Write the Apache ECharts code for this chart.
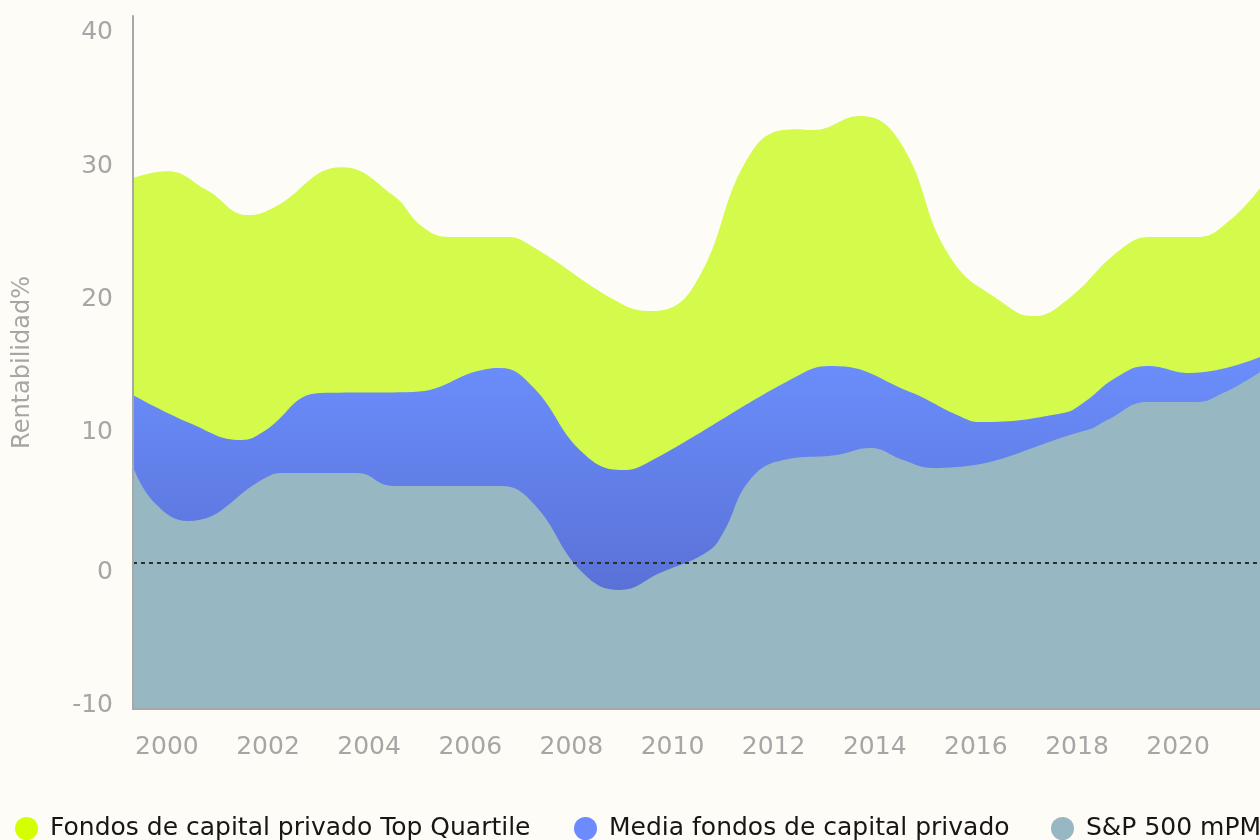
<!DOCTYPE html>
<html>
<head>
<meta charset="utf-8">
<script src="https://cdn.jsdelivr.net/npm/echarts@6/dist/echarts.min.js"></script>
<style>
html,body{margin:0;padding:0;background:#fdfcf7;}
#chart{width:1260px;height:840px;}
</style>
</head>
<body>
<div id="chart"></div>
<script>
// Series names (legend)
const seriesNames = ['Fondos de capital privado Top Quartile', 'Media fondos de capital privado', 'S&P 500 mPM'];

// Axis tick labels
const xTickLabels = [2000, 2002, 2004, 2006, 2008, 2010, 2012, 2014, 2016, 2018, 2020];
const yTickLabels = [-10, 0, 10, 20, 30, 40];

// Top quartile (years, %)
const topYears  = [1999.33, 2000.00, 2000.79, 2001.60, 2002.10, 2003.46, 2004.47, 2005.06, 2005.60, 2006.73, 2007.18, 2008.96, 2009.59, 2010.41, 2011.59, 2012.46, 2012.78, 2013.71, 2014.50, 2015.49, 2016.54, 2017.13, 2017.80, 2018.85, 2019.45, 2020.38, 2021.03, 2021.62];
const topValues = [28.84, 29.36, 27.94, 26.06, 26.59, 29.66, 27.56, 25.16, 24.41, 24.41, 23.81, 19.46, 18.86, 20.66, 30.94, 32.51, 32.44, 33.49, 31.54, 22.91, 19.46, 18.48, 19.68, 23.44, 24.41, 24.41, 25.69, 28.09];

// Media fondos (years, %)
const mediaYears  = [1999.33, 2000.45, 2001.48, 2001.90, 2003.03, 2004.87, 2006.33, 2006.59, 2007.24, 2008.23, 2009.02, 2009.50, 2012.58, 2013.18, 2014.70, 2015.63, 2016.08, 2017.73, 2018.12, 2018.79, 2019.39, 2020.24, 2021.62];
const mediaValues = [12.56, 10.46, 9.18, 9.78, 12.71, 12.79, 14.51, 14.58, 13.16, 8.21, 6.93, 7.46, 14.22, 14.74, 12.79, 11.06, 10.53, 11.21, 11.96, 13.91, 14.74, 14.21, 15.41];

// S&P 500 mPM (years, %)
const spYears  = [1999.33, 1999.76, 2000.42, 2001.98, 2002.29, 2003.76, 2004.47, 2006.59, 2007.24, 2008.23, 2008.96, 2009.75, 2010.68, 2011.00, 2011.53, 2012.19, 2013.25, 2013.91, 2014.56, 2015.15, 2018.20, 2018.60, 2019.39, 2020.38, 2020.89, 2021.37, 2021.62];
const spValues = [7.15, 4.45, 3.10, 6.40, 6.70, 6.70, 5.73, 5.73, 4.46, -0.80, -2.07, -0.80, 0.78, 2.21, 6.18, 7.68, 8.06, 8.58, 7.68, 7.08, 9.93, 10.68, 12.04, 12.04, 12.71, 13.69, 14.29];

const pairs = (xs, ys) => xs.map((x, i) => [x, ys[i]]);

const FONT = 'DejaVu Sans';
const chart = echarts.init(document.getElementById('chart'), null, {renderer: 'canvas'});

function legendAt(name, left) {
  return {
    data: [name],
    left: left,
    top: 816,
    icon: 'circle',
    itemWidth: 23,
    itemHeight: 23,
    padding: 0,
    selectedMode: false,
    textStyle: {fontFamily: FONT, fontSize: 25, color: '#161616', padding: [0, 0, 0, 7]}
  };
}

const areaBase = {
  type: 'line',
  smooth: 0.45,
  showSymbol: false,
  symbol: 'none',
  silent: true,
  lineStyle: {width: 0},
  clip: true
};

const labelStyle = {fontFamily: FONT, fontSize: 25, color: '#a6a6a6'};

chart.setOption({
  backgroundColor: '#fdfcf7',
  animation: false,
  textStyle: {fontFamily: FONT},
  grid: {left: 133, right: 0, top: 16, bottom: 131, containLabel: false},
  legend: [
    legendAt(seriesNames[0], 15),
    legendAt(seriesNames[1], 574),
    legendAt(seriesNames[2], 1051)
  ],
  xAxis: {
    type: 'value',
    min: 1999.33,
    max: 2021.62,
    z: 10,
    splitLine: {show: false},
    axisTick: {show: false},
    axisLine: {show: true, onZero: false, lineStyle: {color: '#a7a7a7', width: 2}},
    axisLabel: Object.assign({
      customValues: xTickLabels,
      margin: 26,
      formatter: v => String(v)
    }, labelStyle)
  },
  yAxis: {
    type: 'value',
    min: -11,
    max: 41,
    z: 10,
    name: 'Rentabilidad%',
    nameLocation: 'middle',
    nameRotate: 90,
    nameGap: 98,
    nameTextStyle: {fontFamily: FONT, fontSize: 24, color: '#a6a6a6'},
    splitLine: {show: false},
    axisTick: {show: false},
    axisLine: {show: true, onZero: false, lineStyle: {color: '#a7a7a7', width: 2}},
    axisLabel: Object.assign({
      customValues: yTickLabels,
      margin: 20,
      formatter: v => (v <= 0 ? '{low|' + v + '}' : '{hi|' + v + '}'),
      rich: {
        hi: Object.assign({padding: [7, 0, 0, 0]}, labelStyle),
        low: Object.assign({padding: [20, 0, 0, 0]}, labelStyle)
      }
    }, labelStyle)
  },
  series: [
    Object.assign({}, areaBase, {
      name: seriesNames[0],
      itemStyle: {color: '#d4ff00'},
      areaStyle: {color: '#d4fa4b', opacity: 1, origin: 'start'},
      data: pairs(topYears, topValues)
    }),
    Object.assign({}, areaBase, {
      name: seriesNames[1],
      itemStyle: {color: '#6b8bff'},
      areaStyle: {
        opacity: 1, origin: 'start',
        color: new echarts.graphic.LinearGradient(0, 0, 0, 1, [
          {offset: 0, color: '#6b8efc'},
          {offset: 1, color: '#5163c4'}
        ])
      },
      data: pairs(mediaYears, mediaValues)
    }),
    Object.assign({}, areaBase, {
      name: seriesNames[2],
      itemStyle: {color: '#97b8c2'},
      areaStyle: {color: '#97b8c2', opacity: 1, origin: 'start'},
      data: pairs(spYears, spValues),
      markLine: {
        silent: true,
        symbol: ['none', 'none'],
        label: {show: false},
        lineStyle: {color: '#2e2e2e', width: 2, type: [4, 4]},
        data: [{yAxis: 0}]
      }
    })
  ]
});
</script>
</body>
</html>
